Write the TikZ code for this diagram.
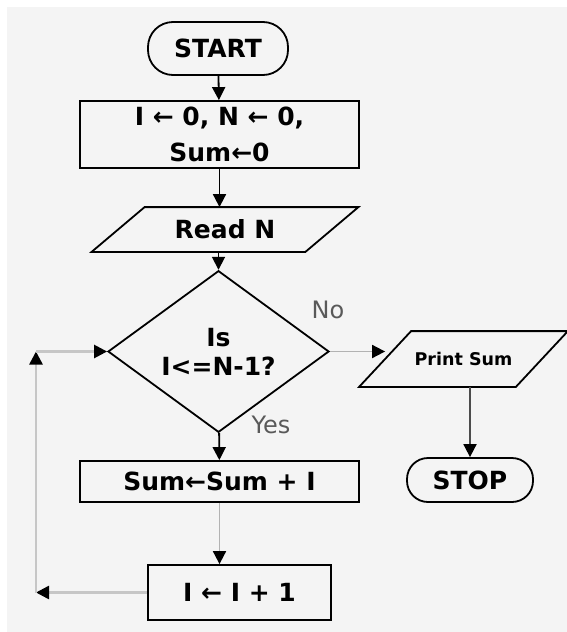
\documentclass[tikz,border=0pt]{standalone}
\usepackage{fontspec}
\setmainfont{DejaVu Sans}
\usetikzlibrary{arrows.meta,shapes.geometric}
\definecolor{paper}{HTML}{F4F4F4}
\begin{document}
\begin{tikzpicture}[x=1pt,y=-1pt,
        box/.style={draw,line width=1.8pt,inner sep=0pt,align=center,font=\fontsize{25}{36}\selectfont\bfseries},
        flow/.style={line width=1.8pt,-{Triangle[length=13pt,width=13pt]}},
        greyflow/.style={flow,gray!60,-{Triangle[length=13pt,width=13pt,color=black]}},
        loopline/.style={greyflow,line width=2.5pt,gray!45},
        answer/.style={font=\fontsize{24}{28}\selectfont,text=gray!70!black}]
        \useasboundingbox (0,0) rectangle (567,632);
        \fill[white] (0,0) rectangle (567,632);
        \fill[paper] (7,7) rectangle (567,632);
        % boxes
        \node[box,rounded corners=25pt,minimum width=140pt,minimum height=53pt] (start) at (218,48.5) {START};
        \node[box,minimum width=279pt,minimum height=67pt] (init) at (219.5,134.5) {I ← 0, N ← 0,\\Sum←0};
        \node[box,draw=none,minimum width=212pt,minimum height=43pt] (readN) at (225,229.5) {Read N};
        \draw[line width=1.8pt] ([xshift=26.5pt]readN.north west) -- ([xshift=26.5pt]readN.north east)
            -- ([xshift=-26.5pt]readN.south east) -- ([xshift=-26.5pt]readN.south west) -- cycle;
        \node[box,diamond,minimum width=221pt,minimum height=133pt,font=\fontsize{25}{29}\selectfont\bfseries] (test) at (218.5,351.5) {Is\\I<=N-1?};
        \node[box,draw=none,minimum width=155pt,minimum height=54pt,font=\fontsize{17.5}{20}\selectfont\bfseries] (print) at (463.5,359) {Print Sum};
        \draw[line width=1.8pt] ([xshift=26pt]print.north west) -- ([xshift=26pt]print.north east)
            -- ([xshift=-26pt]print.south east) -- ([xshift=-26pt]print.south west) -- cycle;
        \node[box,rounded corners=21pt,minimum width=126pt,minimum height=44pt] (stop) at (470,480) {STOP};
        \node[box,minimum width=279pt,minimum height=41pt] (sum) at (219.5,481.5) {Sum←Sum + I};
        \node[box,minimum width=183pt,minimum height=55pt] (inc) at (239.5,592.5) {I ← I + 1};
        \node[answer] (lblno) at (328,310) {No};
        \node[answer] (lblyes) at (271,425) {Yes};
        \coordinate (loop) at (36,0);
        % connectors
        \draw[flow] (start) -- (init);
        \draw[flow] (init.south) -- (init.south |- readN.north);
        \draw[flow] (test.north |- readN.south) -- (test.north);
        \draw[flow] (test) -- (sum);
        \draw[greyflow] (test.east) -- (test.east -| print.west);
        \draw[greyflow,gray!60!black] (print.south -| stop) -- (stop);
        \draw[greyflow] (sum.south) -- (sum.south |- inc.north);
        \draw[loopline] (inc.west) -- (inc.west -| loop);
        \draw[loopline] (inc.west -| loop) -- (test.west -| loop);
        \draw[loopline] (test.west -| loop) -- (test.west);
\end{tikzpicture}
\end{document}
